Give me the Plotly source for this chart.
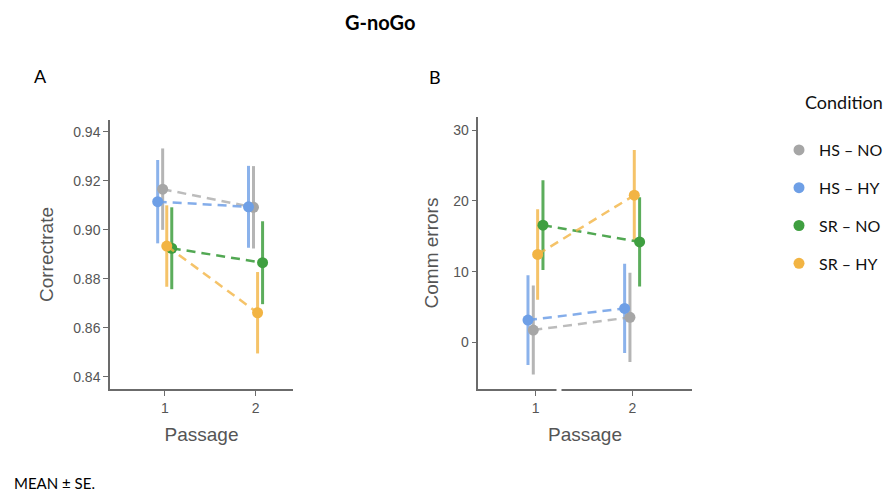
import plotly.graph_objects as go

# ---------------- data ----------------
conditions = ["HS – NO", "HS – HY", "SR – NO", "SR – HY"]
passage = [1, 2]

# Panel A: Correctrate (mean, SE)
correct_hs_no = [0.9166, 0.9092]
correct_hs_hy = [0.9115, 0.9094]
correct_sr_no = [0.8925, 0.8866]
correct_sr_hy = [0.8934, 0.8662]
correct_se_hs_no = [0.0166, 0.0168]
correct_se_hs_hy = [0.0170, 0.0167]
correct_se_sr_no = [0.0167, 0.0169]
correct_se_sr_hy = [0.0166, 0.0166]

# Panel B: Comm errors (mean, SE)
comm_hs_no = [1.74, 3.53]
comm_hs_hy = [3.15, 4.80]
comm_sr_no = [16.57, 14.20]
comm_sr_hy = [12.43, 20.80]
comm_se_hs_no = [6.3, 6.3]
comm_se_hs_hy = [6.35, 6.3]
comm_se_sr_no = [6.35, 6.3]
comm_se_sr_hy = [6.4, 6.4]

y_ticks_a = [0.84, 0.86, 0.88, 0.90, 0.92, 0.94]
y_ticks_b = [0, 10, 20, 30]

# ---------------- style ----------------
colors = {"HS – NO": "#a6a6a6", "HS – HY": "#6e9fe6",
          "SR – NO": "#3f9f40", "SR – HY": "#f2b443"}
line_rgba = {"HS – NO": "rgba(166,166,166,0.75)", "HS – HY": "rgba(110,159,230,0.85)",
             "SR – NO": "rgba(63,159,64,0.9)", "SR – HY": "rgba(242,180,67,0.8)"}
err_rgba = {"HS – NO": "rgba(150,150,150,0.7)", "HS – HY": "rgba(110,159,230,0.8)",
            "SR – NO": "rgba(63,159,64,0.85)", "SR – HY": "rgba(242,180,67,0.8)"}
dodge = {"HS – HY": -0.08, "HS – NO": -0.025, "SR – HY": 0.02, "SR – NO": 0.075}
draw_order = ["HS – NO", "HS – HY", "SR – NO", "SR – HY"]

panel_a = {"HS – NO": (correct_hs_no, correct_se_hs_no), "HS – HY": (correct_hs_hy, correct_se_hs_hy),
           "SR – NO": (correct_sr_no, correct_se_sr_no), "SR – HY": (correct_sr_hy, correct_se_sr_hy)}
panel_b = {"HS – NO": (comm_hs_no, comm_se_hs_no), "HS – HY": (comm_hs_hy, comm_se_hs_hy),
           "SR – NO": (comm_sr_no, comm_se_sr_no), "SR – HY": (comm_sr_hy, comm_se_sr_hy)}

fig = go.Figure()

for panel, xa, ya in [(panel_a, "x", "y"), (panel_b, "x2", "y2")]:
    for cond in draw_order:
        mean, se = panel[cond]
        xs = [p + dodge[cond] for p in passage]
        fig.add_trace(go.Scatter(
            x=xs, y=mean, mode="markers", xaxis=xa, yaxis=ya, showlegend=False,
            marker=dict(size=1, color="rgba(0,0,0,0)"),
            error_y=dict(type="data", array=se, symmetric=True, color=err_rgba[cond],
                         thickness=3, width=0),
            hoverinfo="skip"))
    for cond in draw_order:
        mean, se = panel[cond]
        xs = [p + dodge[cond] for p in passage]
        fig.add_trace(go.Scatter(
            x=xs, y=mean, mode="lines+markers", xaxis=xa, yaxis=ya, showlegend=False,
            name=cond,
            line=dict(color=line_rgba[cond], width=2.5, dash="9px,6px"),
            marker=dict(size=11, color=colors[cond])))

# legend-only traces
for cond in conditions:
    fig.add_trace(go.Scatter(
        x=[None], y=[None], mode="markers", name=cond, legendgroup=cond,
        marker=dict(size=11, color=colors[cond]), xaxis="x", yaxis="y"))

axis_line = "#6b6b6b"
tick_font = dict(family="Liberation Sans, Arial, sans-serif", size=14, color="#555555")
title_font = dict(family="Liberation Sans, Arial, sans-serif", size=19, color="#555555")

common_x = dict(showgrid=False, zeroline=False, showline=True, linecolor=axis_line, linewidth=1.5,
                ticks="outside", ticklen=5, tickcolor=axis_line, tickwidth=1.2,
                tickvals=passage, ticktext=[str(p) for p in passage], tickfont=tick_font,
                title=dict(text="Passage", font=title_font, standoff=13))
common_y = dict(showgrid=False, zeroline=False, showline=True, linecolor=axis_line, linewidth=1.5,
                ticks="outside", ticklen=5, tickcolor=axis_line, tickwidth=1.2, tickfont=tick_font)

lato = "Lato, sans-serif"
fig.update_layout(
    width=888, height=493,
    margin=dict(l=0, r=0, t=0, b=0),
    paper_bgcolor="white", plot_bgcolor="white",
    xaxis=dict(domain=[110/888, 293/888], range=[0.395, 2.41], anchor="y", **common_x),
    yaxis=dict(domain=[(493-389)/493, (493-120)/493], range=[0.8351, 0.9448], anchor="x",
               tickvals=y_ticks_a, ticktext=[f"{v:.2f}" for v in y_ticks_a],
               title=dict(text="Correctrate", font=title_font, standoff=15), **common_y),
    xaxis2=dict(domain=[478.3/888, 691.7/888], range=[0.406, 2.614], anchor="y2", **common_x),
    yaxis2=dict(domain=[(493-389.3)/493, (493-116.7)/493], range=[-6.64, 31.9], anchor="x2",
                tickvals=y_ticks_b, ticktext=[str(v) for v in y_ticks_b],
                title=dict(text="Comm errors", font=title_font, standoff=10), **common_y),
    legend=dict(x=779/888, y=(493-133)/493, xanchor="left", yanchor="top",
                font=dict(family=lato, size=16, color="#111111"),
                tracegroupgap=14, traceorder="grouped", itemwidth=30,
                bgcolor="rgba(0,0,0,0)"),
    showlegend=True,
    annotations=[
        dict(text="<b>G-noGo</b>", x=380/888, y=(493-22)/493, xref="paper", yref="paper",
             xanchor="center", yanchor="middle", showarrow=False,
             font=dict(family=lato, size=20, color="#000000")),
        dict(text="A", x=40/888, y=(493-76)/493, xref="paper", yref="paper",
             xanchor="center", yanchor="middle", showarrow=False,
             font=dict(family=lato, size=18, color="#000000")),
        dict(text="B", x=435/888, y=(493-77)/493, xref="paper", yref="paper",
             xanchor="center", yanchor="middle", showarrow=False,
             font=dict(family=lato, size=18, color="#000000")),
        dict(text="Condition", x=844/888, y=(493-102)/493, xref="paper", yref="paper",
             xanchor="center", yanchor="middle", showarrow=False,
             font=dict(family=lato, size=18, color="#111111")),
        dict(text="MEAN ± SE.", x=12/888, y=(493-483)/493, xref="paper", yref="paper",
             xanchor="left", yanchor="middle", showarrow=False,
             font=dict(family=lato, size=15, color="#000000")),
    ],
    shapes=[dict(type="rect", xref="paper", yref="paper", layer="above",
                 x0=556.5/888, x1=561.5/888, y0=(493-392)/493, y1=(493-386)/493,
                 fillcolor="white", line=dict(width=0))],
)

fig.write_html("out.html", config={"displayModeBar": False},
               post_script="document.body.style.margin='0px';document.body.style.overflow='hidden';")
